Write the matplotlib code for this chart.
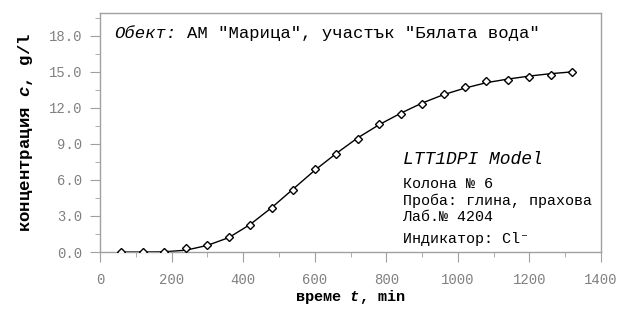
import matplotlib
matplotlib.use("Agg")
import matplotlib.pyplot as plt
from matplotlib.ticker import MultipleLocator

plt.rcParams['font.family'] = ['Liberation Mono', 'DejaVu Sans Mono']
plt.rcParams['mathtext.fontset'] = 'custom'
plt.rcParams['mathtext.rm'] = 'Liberation Mono:bold'
plt.rcParams['mathtext.it'] = 'Liberation Mono:italic:bold'

# measured points
t_min = [60, 120, 180, 240, 300, 360, 420, 480, 540, 600, 660, 720,
         780, 840, 900, 960, 1020, 1080, 1140, 1200, 1260, 1320]
c_meas = [0.0, 0.0, 0.0, 0.3, 0.6, 1.25, 2.25, 3.7, 5.2, 6.9, 8.2, 9.45,
          10.65, 11.45, 12.35, 13.15, 13.75, 14.2, 14.35, 14.55, 14.75, 14.95]
# LTT1DPI model curve
c_model = [0.0, 0.0, 0.02, 0.15, 0.55, 1.2, 2.3, 3.7, 5.25, 6.8, 8.2, 9.5,
           10.6, 11.55, 12.4, 13.1, 13.65, 14.1, 14.4, 14.65, 14.85, 15.0]
y_ticks = [0, 3, 6, 9, 12, 15, 18]

grey = '#a0a0a0'

fig = plt.figure(figsize=(6.17, 3.09), dpi=100)
ax = fig.add_axes([100/617, 1-252/309, 501/617, 239/309])

ax.plot(t_min, c_model, color='black', lw=1.0, zorder=2)
ax.plot(t_min, c_meas, ls='none', marker='D', ms=4.2, mfc='white', mec='black', mew=1.0, zorder=3)

ax.set_xlim(0, 1400)
ax.set_ylim(0, 19.9)
ax.xaxis.set_major_locator(MultipleLocator(200))
ax.xaxis.set_minor_locator(MultipleLocator(100))
ax.set_yticks(y_ticks)
ax.yaxis.set_minor_locator(MultipleLocator(1.5))
ax.set_yticklabels([f'{v:.1f}' for v in y_ticks])

for s in ax.spines.values():
    s.set_color(grey)
    s.set_linewidth(1.0)
ax.tick_params(which='major', color=grey, length=7, labelcolor='#808080', labelsize=10)
ax.tick_params(axis='y', which='major', pad=6)
ax.tick_params(axis='x', which='major', pad=8)
ax.tick_params(which='minor', color=grey, length=3.5)

ax.set_xlabel('време $t$, min', fontsize=11, fontweight='bold', labelpad=1)
ax.set_ylabel('концентрация $c$, g/l', fontsize=12.5, fontweight='bold', labelpad=10)

ax.text(0.028, 0.915, 'Обект:', fontsize=12.4, style='italic', transform=ax.transAxes, va='center')
ax.text(0.173, 0.915, 'АМ "Марица", участък "Бялата вода"', fontsize=12.4,
        transform=ax.transAxes, va='center')

ax.text(0.605, 0.385, 'LTT1DPI Model', fontsize=13, style='italic', transform=ax.transAxes, va='center')
ax.text(0.605, 0.285, 'Колона № 6', fontsize=10.8, transform=ax.transAxes, va='center')
ax.text(0.605, 0.215, 'Проба: глина, прахова', fontsize=10.8, transform=ax.transAxes, va='center')
ax.text(0.605, 0.145, 'Лаб.№ 4204', fontsize=10.8, transform=ax.transAxes, va='center')
ax.text(0.605, 0.055, 'Индикатор: Cl⁻', fontsize=10.8, transform=ax.transAxes, va='center')

fig.savefig('out.png', dpi=100)
